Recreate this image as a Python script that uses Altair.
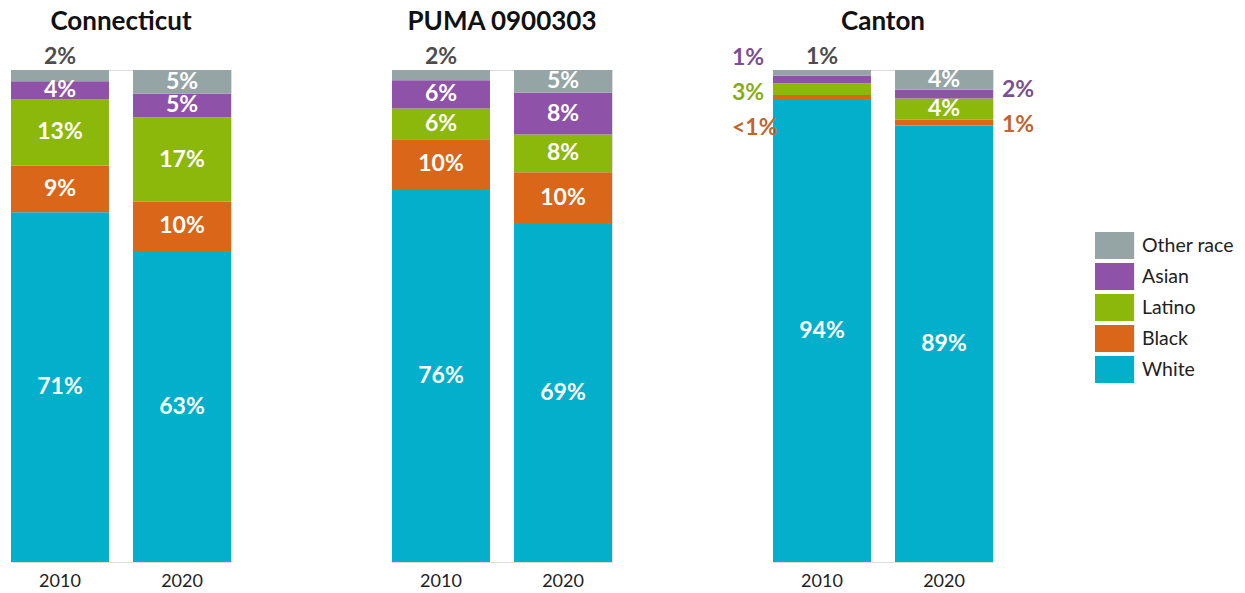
import altair as alt
import pandas as pd

regions = ["Connecticut", "PUMA 0900303", "Canton"]
years = ["2010", "2020"]
races = ["White", "Black", "Latino", "Asian", "Other race"]
legend_order = ["Other race", "Asian", "Latino", "Black", "White"]
race_colors = ["#95a5a6", "#8e52a9", "#8cb80c", "#d96619", "#03afcb"]

# shares (%) in race order: White, Black, Latino, Asian, Other race
connecticut_2010 = [71.1, 9.5, 13.4, 3.7, 2.3]
connecticut_2020 = [63.2, 10.0, 17.2, 4.8, 4.8]
puma_2010 = [75.8, 10.1, 6.3, 5.7, 2.1]
puma_2020 = [68.9, 10.3, 7.7, 8.5, 4.6]
canton_2010 = [94.1, 0.8, 2.4, 1.6, 1.1]
canton_2020 = [88.7, 1.2, 4.3, 1.8, 4.0]

connecticut_2010_labels = ["71%", "9%", "13%", "4%", "2%"]
connecticut_2020_labels = ["63%", "10%", "17%", "5%", "5%"]
puma_2010_labels = ["76%", "10%", "6%", "6%", "2%"]
puma_2020_labels = ["69%", "10%", "8%", "8%", "5%"]
canton_2010_labels = ["94%", "<1%", "3%", "1%", "1%"]
canton_2020_labels = ["89%", "1%", "4%", "2%", "4%"]

# where each label sits: inside the segment, above the bar, left or right of it
connecticut_2010_place = ["in", "in", "in", "in", "top"]
connecticut_2020_place = ["in", "in", "in", "in", "in"]
puma_2010_place = ["in", "in", "in", "in", "top"]
puma_2020_place = ["in", "in", "in", "in", "in"]
canton_2010_place = ["in", "left", "left", "left", "top"]
canton_2020_place = ["in", "right", "in", "right", "in"]

# label heights (in % units) for labels set outside the bars
outside_label_at = {
    ("Canton", "2010", "Black"): 88.2,
    ("Canton", "2010", "Latino"): 95.3,
    ("Canton", "2010", "Asian"): 102.4,
    ("Canton", "2020", "Asian"): 95.9,
    ("Canton", "2020", "Black"): 88.8,
}
top_label_at = 102.6

outside_label_colors = {
    "Black": "#c0652f",
    "Latino": "#89ad10",
    "Asian": "#7b4f96",
    "Other race": "#4d4d4d",
}

series = [
    ("Connecticut", "2010", connecticut_2010, connecticut_2010_labels, connecticut_2010_place),
    ("Connecticut", "2020", connecticut_2020, connecticut_2020_labels, connecticut_2020_place),
    ("PUMA 0900303", "2010", puma_2010, puma_2010_labels, puma_2010_place),
    ("PUMA 0900303", "2020", puma_2020, puma_2020_labels, puma_2020_place),
    ("Canton", "2010", canton_2010, canton_2010_labels, canton_2010_place),
    ("Canton", "2020", canton_2020, canton_2020_labels, canton_2020_place),
]

rows = []
for region, year, vals, labs, places in series:
    base = 0.0
    for race, v, lab, pl in zip(races, vals, labs, places):
        y0, y1 = base, base + v
        base = y1
        if pl == "in":
            ly = (y0 + y1) / 2
        elif pl == "top":
            ly = top_label_at
        else:
            ly = outside_label_at[(region, year, race)]
        rows.append({
            "region": region, "year": year, "race": race, "value": v,
            "y0": y0, "y1": y1, "label": lab, "place": pl, "label_y": ly,
            "lcolor": outside_label_colors.get(race, "#ffffff"),
        })
df = pd.DataFrame(rows)

FONT = "Lato"
LABEL_SIZE = 23
x_enc = alt.X("year:N", sort=years, title=None,
              scale=alt.Scale(paddingInner=0.197, paddingOuter=0),
              axis=alt.Axis(labelAngle=0, labelFontSize=18, labelColor="#222222",
                            ticks=False, domain=False, labelPadding=10, labelFont=FONT))
y_scale = alt.Scale(domain=[0, 100], nice=False, zero=True)

base = alt.Chart()

bars = base.mark_bar().encode(
    x=x_enc,
    y=alt.Y("y1:Q", scale=y_scale, axis=None),
    y2="y0:Q",
    color=alt.Color("race:N", scale=alt.Scale(domain=legend_order, range=race_colors),
                    title=None,
                    legend=alt.Legend(orient="none", legendX=1084, legendY=162,
                                      symbolType="M-1,-1H1.9V1H-1Z", symbolSize=729,
                                      symbolStrokeWidth=0, symbolOpacity=1,
                                      labelFontSize=19.5, labelColor="#222222", labelFont=FONT,
                                      labelOffset=20, rowPadding=4)),
)

text_in = base.transform_filter("datum.place == 'in'").mark_text(
    color="white", fontWeight="bold", fontSize=LABEL_SIZE, font=FONT, baseline="middle"
).encode(x=x_enc, y=alt.Y("label_y:Q", scale=y_scale, axis=None), text="label:N")

text_top = base.transform_filter("datum.place == 'top'").mark_text(
    color="#4d4d4d", fontWeight="bold", fontSize=LABEL_SIZE, font=FONT, baseline="middle"
).encode(x=x_enc, y=alt.Y("label_y:Q", scale=y_scale, axis=None), text="label:N")

text_left = base.transform_filter("datum.place == 'left'").mark_text(
    fontWeight="bold", fontSize=LABEL_SIZE, font=FONT, baseline="middle", align="left", dx=-90
).encode(x=x_enc, y=alt.Y("label_y:Q", scale=y_scale, axis=None), text="label:N",
         color=alt.Color("lcolor:N", scale=None))

text_right = base.transform_filter("datum.place == 'right'").mark_text(
    fontWeight="bold", fontSize=LABEL_SIZE, font=FONT, baseline="middle", align="left", dx=58
).encode(x=x_enc, y=alt.Y("label_y:Q", scale=y_scale, axis=None), text="label:N",
         color=alt.Color("lcolor:N", scale=None))

layered = alt.layer(bars, text_in, text_top, text_left, text_right).properties(width=220, height=492)

chart = layered.facet(
    data=df,
    column=alt.Column("region:N", sort=regions, title=None,
                      header=alt.Header(labelFontSize=26, labelFontWeight="bold",
                                        labelColor="#111111", labelFont=FONT,
                                        labelPadding=35)),
    spacing=161,
    bounds="flush",
).properties(
    padding={"left": 2, "top": 1, "right": 0, "bottom": 0}
).configure_view(stroke=None).configure(font=FONT)

chart.save("out.html", embed_options={"renderer": "svg", "actions": False})
